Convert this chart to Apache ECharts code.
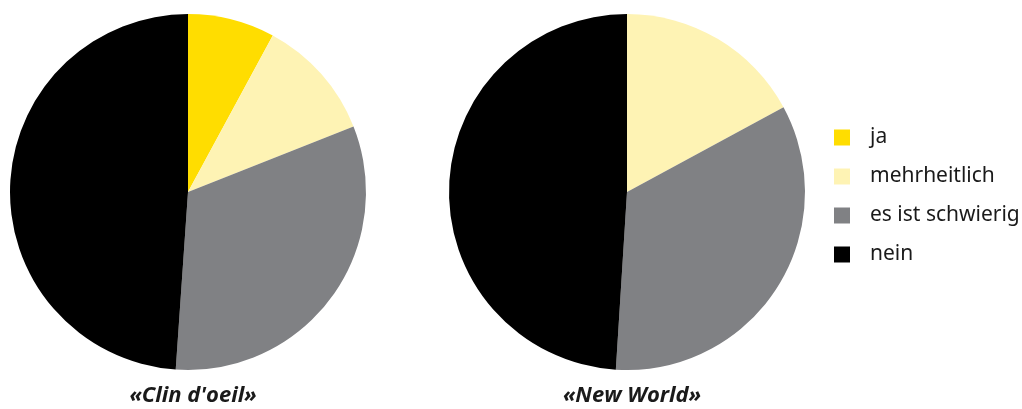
<!DOCTYPE html>
<html>
<head>
<meta charset="utf-8">
<script src="https://cdn.jsdelivr.net/npm/echarts@6/dist/echarts.min.js"></script>
<style>
html,body{margin:0;padding:0;background:#fff;}
#c{width:1022px;height:409px;}
</style>
</head>
<body>
<div id="c"></div>
<script>
var categories = ['ja', 'mehrheitlich', 'es ist schwierig', 'nein'];
var colors = ['#FFDD00', '#FEF3B4', '#808184', '#000000'];
var pieTitles = ['«Clin d\'oeil»', '«New World»'];
var clinValues = [7.9, 11.1, 32.1, 48.9];
var newWorldValues = [0, 17.1, 33.9, 49.0];

function toData(vals) {
  return categories.map(function (c, i) { return { name: c, value: vals[i] }; });
}

var chart = echarts.init(document.getElementById('c'), null, { renderer: 'canvas' });
var font = '"Noto Sans", "Open Sans", sans-serif';
var titleStyle = { fontFamily: '"Open Sans", "Noto Sans", sans-serif', fontSize: 22, fontWeight: 'bold', fontStyle: 'italic', color: '#1a1a1a' };
chart.setOption({
  animation: false,
  color: colors,
  textStyle: { fontFamily: font },
  title: [
    { text: pieTitles[0], left: 188, top: 380, textAlign: 'center', textStyle: titleStyle },
    { text: pieTitles[1], left: 627, top: 380, textAlign: 'center', textStyle: titleStyle }
  ],
  legend: {
    data: categories,
    orient: 'vertical',
    left: 829,
    top: 122,
    icon: 'rect',
    itemWidth: 16,
    itemHeight: 16,
    itemGap: 18,
    textStyle: { fontFamily: font, fontSize: 21, lineHeight: 16, color: '#1a1a1a', padding: [0, 0, 0, 15] }
  },
  series: [
    {
      type: 'pie', center: [188, 192], radius: 178, startAngle: 90, clockwise: true,
      label: { show: false }, labelLine: { show: false },
      itemStyle: { borderWidth: 0 },
      emphasis: { disabled: true },
      data: toData(clinValues)
    },
    {
      type: 'pie', center: [627, 192], radius: 178, startAngle: 90, clockwise: true,
      label: { show: false }, labelLine: { show: false },
      itemStyle: { borderWidth: 0 },
      emphasis: { disabled: true },
      data: toData(newWorldValues)
    }
  ]
});
</script>
</body>
</html>
